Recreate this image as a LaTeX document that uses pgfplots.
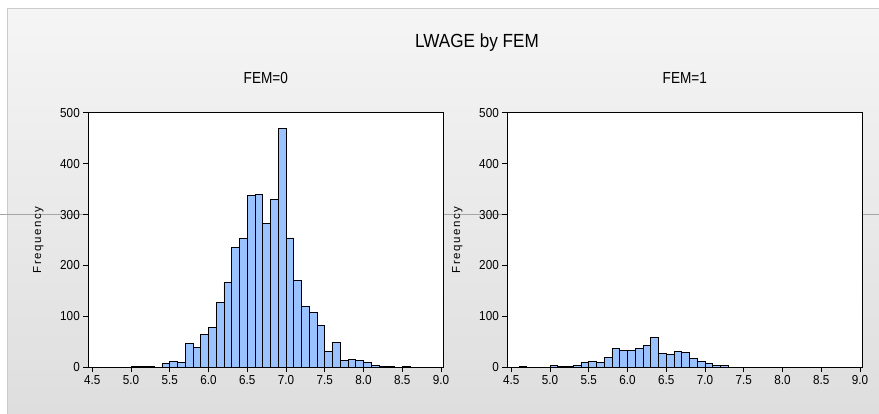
\documentclass[border=0pt]{standalone}
\usepackage{pgfplots}
\usepackage{pgfplotstable}
\pgfplotsset{compat=1.18}
\usepackage{fontspec}
\setmainfont{Liberation Sans}
\newfontfamily\condfont[FakeStretch=0.9]{Liberation Sans}
\newfontfamily\narrowfont[FakeStretch=0.85]{Liberation Sans}
\newfontfamily\spacedfont[LetterSpace=14]{Liberation Sans}
\definecolor{barblue}{RGB}{153,194,255}
\definecolor{panelgray}{RGB}{245,245,245}
\definecolor{panelgraydark}{RGB}{222,222,222}

% LWAGE histograms, bin width 0.1 (last row closes the last bin)
\pgfplotstableread{
x y
5.0 1
5.1 1
5.2 1
5.3 0
5.4 8
5.5 12
5.6 10
5.7 47
5.8 39
5.9 65
6.0 79
6.1 128
6.2 166
6.3 236
6.4 253
6.5 338
6.6 339
6.7 283
6.8 329
6.9 469
7.0 254
7.1 171
7.2 120
7.3 108
7.4 82
7.5 31
7.6 49
7.7 14
7.8 16
7.9 14
8.0 10
8.1 4
8.2 2
8.3 1
8.4 0
8.5 2
8.6 0
}\femzero

\pgfplotstableread{
x y
4.6 1
4.7 0
4.8 0
4.9 0
5.0 3
5.1 1
5.2 1
5.3 3
5.4 9
5.5 11
5.6 9
5.7 19
5.8 37
5.9 33
6.0 33
6.1 37
6.2 43
6.3 58
6.4 28
6.5 25
6.6 31
6.7 29
6.8 17
6.9 12
7.0 7
7.1 3
7.2 3
7.3 0
}\femone

\pgfplotsset{
  hist/.style={
    scale only axis, width=355pt, height=254.6pt,
    anchor=south west,
    xmin=4.45, xmax=9.03, ymin=0, ymax=500,
    xtick distance=0.5, ytick distance=100,
    xtick pos=bottom, ytick pos=left,
    tick align=outside, major tick length=5pt,
    tick style={black, line width=0.8pt},
    axis line style={black, line width=1pt},
    axis background/.style={fill=white},
    tick label style={font=\condfont\fontsize{13}{15}\selectfont},
    /pgf/number format/assume math mode=true,
    x tick label style={/pgf/number format/.cd, fixed, fixed zerofill, precision=1},
    ylabel={Frequency},
    ylabel style={font=\spacedfont\fontsize{11.5}{13}\selectfont,
      at={(axis description cs:-0.141,0.5)}, anchor=center},
    every axis title shift=0pt,
    title style={font=\narrowfont\fontsize{16}{18}\selectfont,
      at={(axis description cs:0.5,1.138)}, anchor=center},
  },
  bars/.style={ybar interval, fill=barblue, draw=black, line width=0.8pt},
}

\begin{document}
\begin{tikzpicture}[x=1pt,y=1pt]
\useasboundingbox (0,0) rectangle (879,414);
\fill[white] (0,0) rectangle (879,414);
\shade[top color=panelgray, bottom color=panelgraydark] (7.5,0) rectangle (879,405.5);
\draw[black!20, line width=1.5pt] (7.5,0) -- (7.5,405.5) -- (879,405.5);
\draw[black!35, line width=0.8pt] (0,199.5) -- (879,199.5);
\node[font=\condfont\fontsize{19}{22}\selectfont] at (477,371) {LWAGE by FEM};

\begin{axis}[hist, at={(88.3pt,46.7pt)}, title={FEM=0}]
\addplot[bars] table[x=x, y=y] {\femzero};
\end{axis}

\begin{axis}[hist, at={(507.3pt,46.7pt)}, title={FEM=1}]
\addplot[bars] table[x=x, y=y] {\femone};
\end{axis}
\end{tikzpicture}
\end{document}
